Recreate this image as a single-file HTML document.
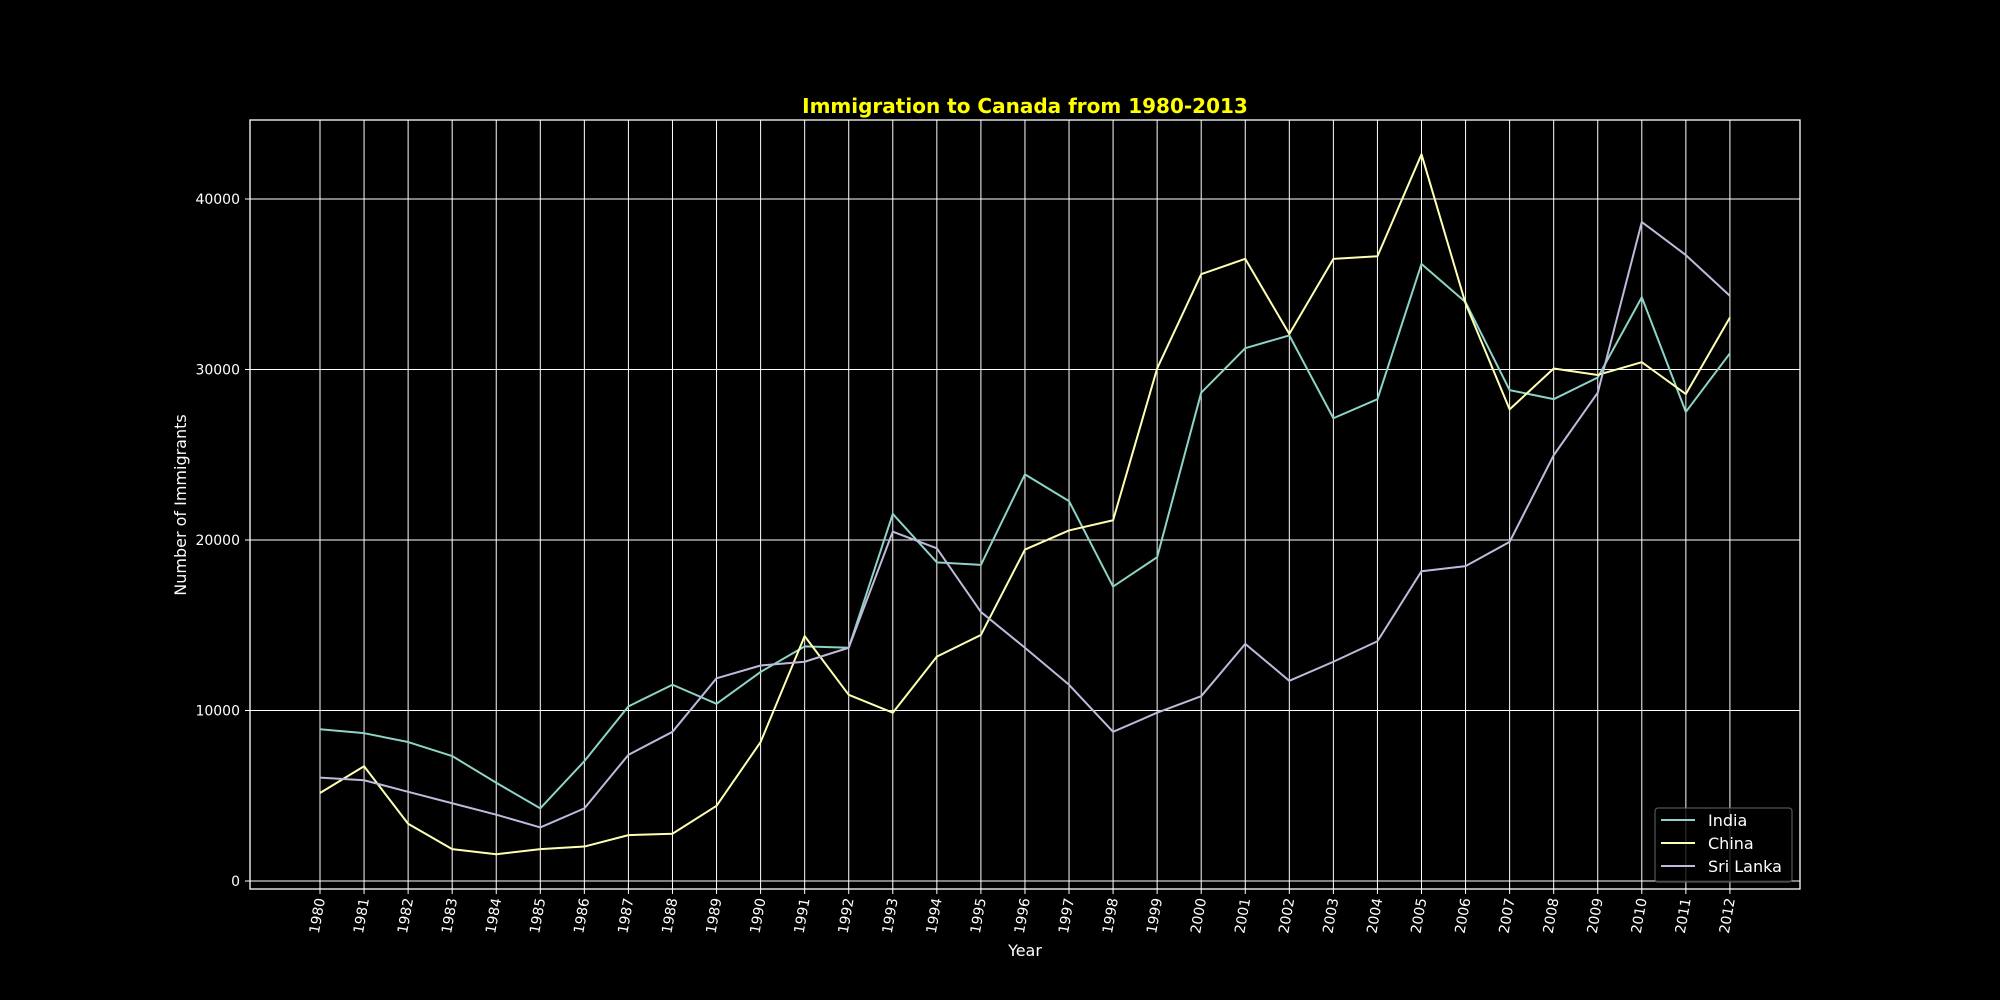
<!DOCTYPE html>
<html><head><meta charset="utf-8"><style>
html,body{margin:0;padding:0;background:#000;}
svg{display:block;font-family:"DejaVu Sans","Liberation Sans",sans-serif;}
</style></head><body>
<svg id="chart" width="2000" height="1000" viewBox="0 0 2000 1000" xmlns="http://www.w3.org/2000/svg">
<rect width="2000" height="1000" fill="#000"/>
<g id="grid"></g><g id="series"></g><g id="ticks"></g>
<rect x="250" y="120" width="1550" height="769" fill="none" stroke="#fff" stroke-width="1.3"/>
<text x="1025" y="113" text-anchor="middle" fill="#ffff00" font-size="20" font-weight="bold">Immigration to Canada from 1980-2013</text>
<text x="1025" y="956" text-anchor="middle" fill="#fff" font-size="16">Year</text>
<text transform="translate(186,505) rotate(-90)" text-anchor="middle" fill="#fff" font-size="16">Number of Immigrants</text>
<g>
<rect x="1655" y="808" width="137" height="74" rx="3" fill="#000" fill-opacity="0.8" stroke="#666"/>
<line x1="1661" y1="820" x2="1695" y2="820" stroke="#8dd3c7" stroke-width="2"/>
<text x="1708" y="826" fill="#fff" font-size="16">India</text>
<line x1="1661" y1="843" x2="1695" y2="843" stroke="#ffffb3" stroke-width="2"/>
<text x="1708" y="849" fill="#fff" font-size="16">China</text>
<line x1="1661" y1="866" x2="1695" y2="866" stroke="#bebada" stroke-width="2"/>
<text x="1708" y="872" fill="#fff" font-size="16">Sri Lanka</text>
</g>
</svg>
<script>
const years=[1980,1981,1982,1983,1984,1985,1986,1987,1988,1989,1990,1991,1992,1993,1994,1995,1996,1997,1998,1999,2000,2001,2002,2003,2004,2005,2006,2007,2008,2009,2010,2011,2012];
const india=[8900,8670,8150,7330,5760,4260,7030,10240,11510,10390,12260,13760,13680,21530,18690,18540,23850,22280,17270,18990,28640,31250,32000,27140,28260,36190,33950,28790,28260,29530,34240,27510,30950];
const china=[5160,6730,3360,1870,1570,1870,2020,2690,2770,4410,8150,14360,10920,9870,13160,14430,19440,20560,21160,30060,35590,36490,32080,36490,36640,42620,33870,27660,30060,29680,30430,28560,33050];
const sriLanka=[6060,5910,5230,4560,3890,3140,4260,7400,8750,11890,12640,12860,13680,20490,19510,15780,13680,11510,8750,9870,10840,13910,11740,12860,14060,18170,18470,19890,24970,28640,38650,36710,34320];
const yTicks=[0,10000,20000,30000,40000];
const NS="http://www.w3.org/2000/svg";
function xs(i){return 320+i*44.06;}
function ys(v){return 881-v*0.01705;}
function mk(tag,attrs,parent){const e=document.createElementNS(NS,tag);for(const k in attrs)e.setAttribute(k,attrs[k]);parent.appendChild(e);return e;}
const grid=document.getElementById('grid'),ticks=document.getElementById('ticks'),ser=document.getElementById('series');
years.forEach((y,i)=>{
  const l=mk('line',{x1:xs(i),x2:xs(i),y1:120,y2:889,stroke:'#fff','stroke-width':1},grid);
  
  
  const tk=mk('line',{x1:xs(i),x2:xs(i),y1:889,y2:894,stroke:'#fff'},ticks);
  
  
  const t=mk('text',{transform:`translate(${xs(i)+5},${899}) rotate(-80)`,'text-anchor':'end',fill:'#fff','font-size':14},ticks);
  t.textContent=y;
  
  
});
yTicks.forEach(v=>{
  const l=mk('line',{x1:250,x2:1800,y1:ys(v),y2:ys(v),stroke:'#fff','stroke-width':1},grid);
  
  
  const tk=mk('line',{x1:245,x2:250,y1:ys(v),y2:ys(v),stroke:'#fff'},ticks);
  
  
  const t=mk('text',{x:240,y:ys(v)+5,'text-anchor':'end',fill:'#fff','font-size':14},ticks);
  t.textContent=v;
  
  
});
[[india,'#8dd3c7','india-line'],[china,'#ffffb3','china-line'],[sriLanka,'#bebada','sri-lanka-line']].forEach(([d,c,n])=>{
  const p=mk('polyline',{points:d.map((v,i)=>xs(i)+','+ys(v)).join(' '),fill:'none',stroke:c,'stroke-width':2,'stroke-linejoin':'round'},ser);
  
  
});
</script>
</body></html>
